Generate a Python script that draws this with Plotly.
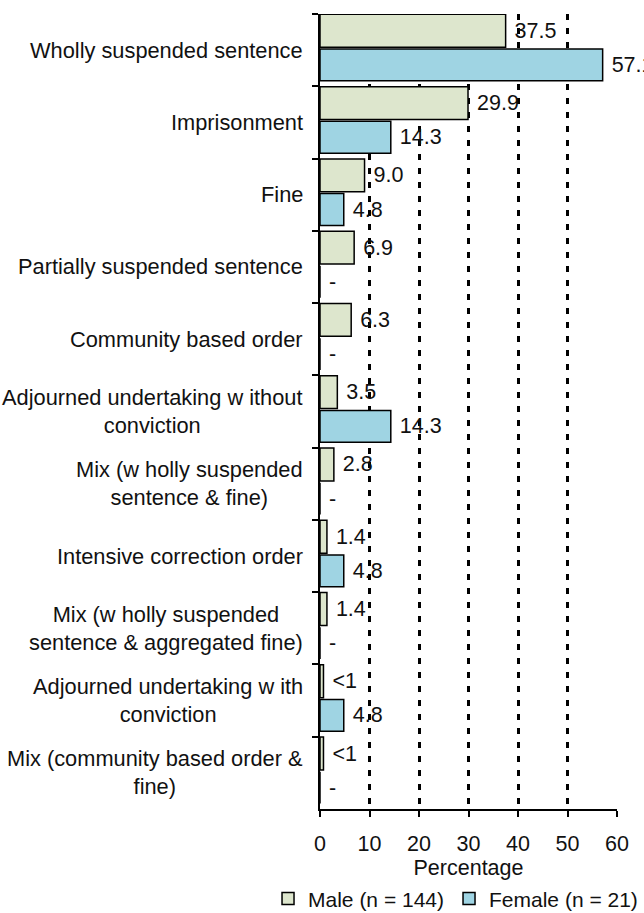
import plotly.graph_objects as go

categories = [
    "Wholly suspended sentence",
    "Imprisonment",
    "Fine",
    "Partially suspended sentence",
    "Community based order",
    "Adjourned undertaking w ithout<br>conviction",
    "Mix (w holly suspended<br>sentence & fine)",
    "Intensive correction order",
    "Mix (w holly suspended<br>sentence & aggregated fine)",
    "Adjourned undertaking w ith<br>conviction",
    "Mix (community based order &<br>fine)",
]
male_values = [37.5, 29.9, 9.0, 6.9, 6.3, 3.5, 2.8, 1.4, 1.4, 0.7, 0.7]
male_labels = ["37.5", "29.9", "9.0", "6.9", "6.3", "3.5", "2.8", "1.4", "1.4", "<1", "<1"]
female_values = [57.1, 14.3, 4.8, 0, 0, 14.3, 0, 4.8, 0, 4.8, 0]
female_labels = ["57.1", "14.3", "4.8", "-", "-", "14.3", "-", "4.8", "-", "4.8", "-"]
x_ticks = [0, 10, 20, 30, 40, 50, 60]

FONT = "Liberation Sans, Arial, sans-serif"
FS = 21.5

fig = go.Figure()
fig.add_trace(go.Bar(
    y=categories, x=male_values, orientation="h", name="Male (n = 144)",
    marker=dict(color="#DDE6CD", line=dict(color="black", width=1.5)),
    offset=-0.495, width=0.455,
    text=[" " + t for t in male_labels], textposition="outside",
    textfont=dict(size=FS, color="#111"), cliponaxis=False, constraintext="none",
    hoverinfo="skip",
))
fig.add_trace(go.Bar(
    y=categories, x=female_values, orientation="h", name="Female (n = 21)",
    marker=dict(color="#9FD4E3", line=dict(color="black", width=1.5)),
    offset=-0.015, width=0.44,
    text=[" " + t for t in female_labels], textposition="outside",
    textfont=dict(size=FS, color="#111"), cliponaxis=False, constraintext="none",
    hoverinfo="skip",
))

for c in categories:
    fig.add_annotation(
        x=0, xref="paper", y=c, yref="y", text=c, showarrow=False,
        xanchor="right", xshift=-15, align="center",
        font=dict(size=21.8, color="#111", family=FONT),
    )

fig.update_layout(
    width=644, height=913,
    margin=dict(l=320, r=27, t=14, b=104, autoexpand=False),
    paper_bgcolor="white", plot_bgcolor="white",
    font=dict(family=FONT, size=FS, color="#111"),
    barmode="group",
    showlegend=True,
    legend=dict(
        orientation="h", x=-0.175, y=-0.113, xanchor="left", yanchor="middle",
        font=dict(size=21), traceorder="normal", itemwidth=30,
        bgcolor="rgba(0,0,0,0)",
    ),
)
fig.update_xaxes(
    range=[0, 60], tickvals=x_ticks, showgrid=True, gridcolor="black",
    gridwidth=3, griddash="6px,8px", zeroline=False,
    showline=True, linecolor="black", linewidth=2,
    ticks="outside", ticklen=6, tickcolor="black", tickwidth=2,
    ticklabelstandoff=8, automargin=True,
    title=dict(text="Percentage", standoff=4, font=dict(size=FS)),
    tickfont=dict(size=FS),
)
fig.update_yaxes(
    autorange="reversed", showticklabels=False, automargin=False,
    showline=True, linecolor="black", linewidth=2,
    ticks="outside", ticklen=6, tickcolor="black", tickwidth=2,
    tickson="boundaries", showgrid=False,
)

fig.write_html("out.html", config={"displayModeBar": False},
               post_script="document.body.style.margin='0';")
